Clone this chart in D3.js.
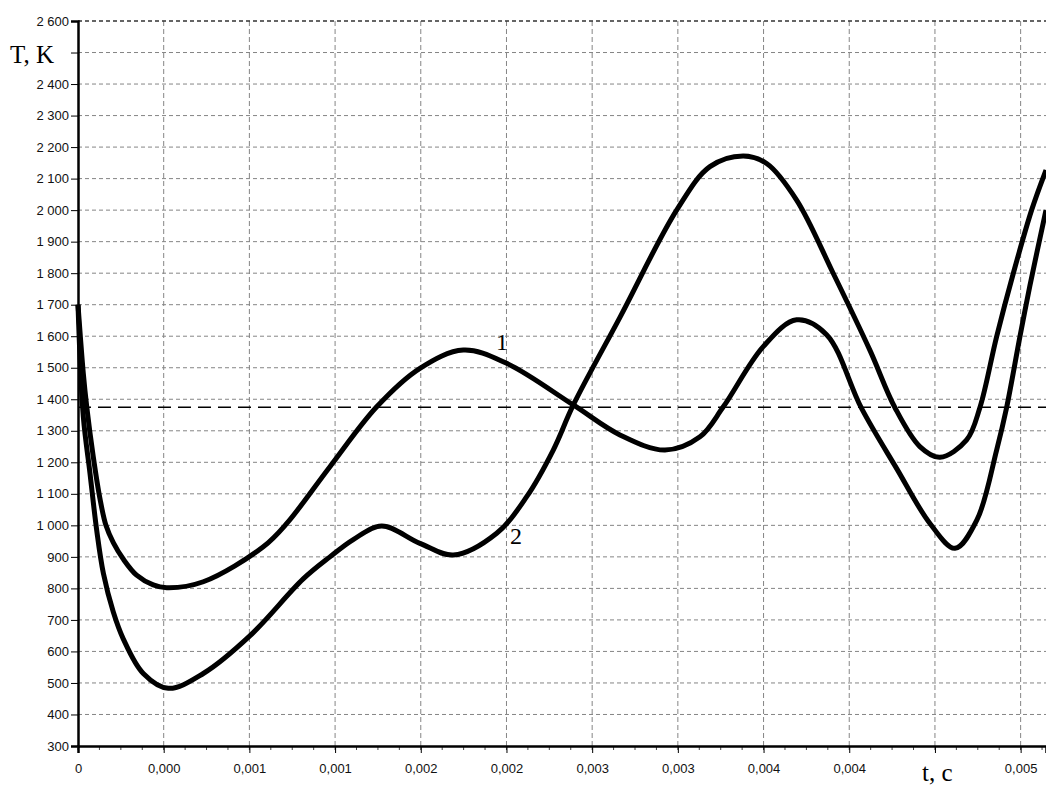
<!DOCTYPE html>
<html>
<head>
<meta charset="utf-8">
<script src="https://cdn.jsdelivr.net/npm/d3@7"></script>
<style>
  body { margin: 0; background: #fff; }
</style>
</head>
<body>
<div id="canvas"></div>
<script>
// curve 1 (upper first minimum)
const time1 = [0, 0.000031, 0.000051, 0.000089, 0.000128, 0.000163, 0.000206, 0.000264, 0.000342, 0.000439,
    0.000518, 0.000731, 0.001081, 0.001218, 0.001470, 0.001743, 0.001995, 0.002248, 0.002501, 0.002890,
    0.003162, 0.003425, 0.003629, 0.003765, 0.003998, 0.004193, 0.004368, 0.004572, 0.004777, 0.004971,
    0.005117, 0.005245, 0.005360, 0.005418, 0.005496, 0.005554, 0.005648];
const temp1 = [1700, 1482, 1376, 1218, 1085, 1000, 945, 893, 842, 811,
    802, 821, 932, 1006, 1186, 1376, 1498, 1556, 1514, 1382,
    1287, 1239, 1281, 1376, 1567, 1652, 1605, 1371, 1180, 1006,
    927, 1017, 1239, 1373, 1599, 1760, 2000];

// curve 2 (lower first minimum)
const time2 = [0, 0.000031, 0.000070, 0.000109, 0.000148, 0.000206, 0.000264, 0.000381, 0.000527, 0.000731,
    0.001004, 0.001314, 0.001470, 0.001606, 0.001772, 0.001995, 0.002190, 0.002443, 0.002618, 0.002773,
    0.002890, 0.003162, 0.003493, 0.003687, 0.003881, 0.004018, 0.004193, 0.004407,
    0.004621, 0.004767, 0.004912, 0.005029, 0.005185, 0.005262, 0.005360, 0.005457, 0.005564,
    0.005648];
const temp2 = [1700, 1345, 1165, 985, 848, 725, 640, 530, 483, 530,
    650, 830, 900, 955, 998, 943, 906, 975, 1091, 1239,
    1382, 1660, 2000, 2138, 2172, 2148, 2032, 1799,
    1555, 1373, 1250, 1216, 1271, 1373, 1599, 1799, 2000,
    2127];

const threshold = 1375;

const xTicks = [0, 0.0005, 0.001, 0.0015, 0.002, 0.0025, 0.003, 0.0035, 0.004, 0.0045, 0.005, 0.0055];
const xTickLabels = ["0", "0,000", "0,001", "0,001", "0,002", "0,002", "0,003", "0,003", "0,004", "0,004", "", "0,005"];
const yTicks = d3.range(300, 2601, 100);
const yHiddenLabel = 2500; // covered by the axis title

// curve number labels: [text, t, T]
const curveLabels = [["1", 0.002439, 1556], ["2", 0.002520, 941]];

const width = 1046, height = 787;
const margin = { top: 21, right: 0, bottom: 41, left: 78 };

const svg = d3.select("#canvas")
    .append("svg")
    .attr("width", width)
    .attr("height", height)
    .style("background-color", "#fff");

const x = d3.scaleLinear()
    .domain([0, 0.005648])
    .range([margin.left, width - margin.right]);

const y = d3.scaleLinear()
    .domain([300, 2600])
    .range([height - margin.bottom, margin.top]);

// grid
svg.append("g")
    .selectAll("line")
    .data(yTicks.slice(1, -1))
    .join("line")
    .attr("x1", margin.left).attr("x2", width)
    .attr("y1", d => y(d)).attr("y2", d => y(d))
    .attr("stroke", "#858585")
    .attr("stroke-dasharray", "4,3");

svg.append("g")
    .selectAll("line")
    .data(xTicks.slice(1))
    .join("line")
    .attr("x1", d => x(d)).attr("x2", d => x(d))
    .attr("y1", y(300)).attr("y2", y(2600))
    .attr("stroke", "#858585")
    .attr("stroke-dasharray", "5,3");

// top border
svg.append("line")
    .attr("x1", margin.left).attr("x2", width)
    .attr("y1", y(2600)).attr("y2", y(2600))
    .attr("stroke", "#333")
    .attr("stroke-width", 1.5)
    .attr("stroke-dasharray", "4,3");

// y axis
const yAxis = svg.append("g")
    .attr("transform", `translate(${margin.left},0)`)
    .call(d3.axisLeft(y).tickValues(yTicks).tickSize(7).tickPadding(2)
        .tickFormat(d => d === yHiddenLabel ? "" : d3.format(",")(d).replace(",", " ")));
yAxis.select(".domain").attr("stroke-width", 2.5);
yAxis.selectAll("text")
    .attr("font-family", "Liberation Sans, Arial, sans-serif")
    .attr("font-size", "13px")
    .attr("fill", "#111");

// x axis minor ticks
const minorTicks = d3.range(0, 0.005648, 0.000125);
svg.append("g")
    .selectAll("line")
    .data(minorTicks)
    .join("line")
    .attr("x1", d => x(d)).attr("x2", d => x(d))
    .attr("y1", y(300)).attr("y2", y(300) + 4)
    .attr("stroke", "#444");

const xAxis = svg.append("g")
    .attr("transform", `translate(0,${y(300)})`)
    .call(d3.axisBottom(x).tickValues(xTicks).tickSize(7).tickPadding(11)
        .tickFormat((d, i) => xTickLabels[i]));
xAxis.select(".domain").attr("stroke-width", 2.5);
xAxis.selectAll("text")
    .attr("font-family", "Liberation Sans, Arial, sans-serif")
    .attr("font-size", "13px")
    .attr("fill", "#111");

// threshold line
svg.append("line")
    .attr("x1", margin.left).attr("x2", width)
    .attr("y1", y(threshold)).attr("y2", y(threshold))
    .attr("stroke", "#000")
    .attr("stroke-width", 1.5)
    .attr("stroke-dasharray", "13,7");

// curves
const line = d3.line()
    .x(d => x(d[0]))
    .y(d => y(d[1]))
    .curve(d3.curveCatmullRom.alpha(0.5));

[[time1, temp1], [time2, temp2]].forEach(([ts, vs]) => {
    svg.append("path")
        .datum(ts.map((t, i) => [t, vs[i]]))
        .attr("d", line)
        .attr("fill", "none")
        .attr("stroke", "#000")
        .attr("stroke-width", 5)
        .attr("stroke-linejoin", "round");
});

// curve labels
svg.selectAll("text.curve-label")
    .data(curveLabels)
    .join("text")
    .attr("class", "curve-label")
    .attr("x", d => x(d[1]))
    .attr("y", d => y(d[2]))
    .attr("font-family", "Liberation Serif, Times New Roman, serif")
    .attr("font-size", "24px")
    .text(d => d[0]);

// axis titles
svg.append("text")
    .attr("x", 10)
    .attr("y", 63)
    .attr("font-family", "Liberation Serif, Times New Roman, serif")
    .attr("font-size", "25px")
    .text("T, K");

svg.append("text")
    .attr("x", 922)
    .attr("y", 781)
    .attr("font-family", "Liberation Serif, Times New Roman, serif")
    .attr("font-size", "25px")
    .text("t, c");
</script>
</body>
</html>
